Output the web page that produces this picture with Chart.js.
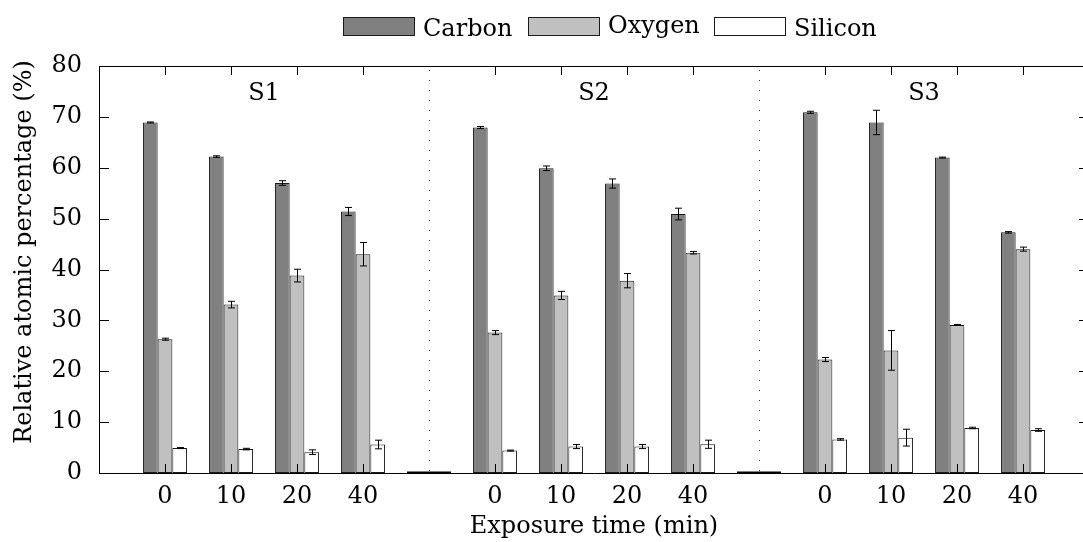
<!DOCTYPE html>
<html>
<head>
<meta charset="utf-8">
<script src="https://cdn.jsdelivr.net/npm/chart.js@4"></script>
<style>
    html, body { margin: 0; padding: 0; overflow: hidden; background: #fff; }
    #cadre { position: relative; width: 1100px; height: 542px; }
</style>
</head>
<body>
<div id="cadre"><canvas id="graphique1"></canvas></div>
<script>
// values
const samples = ["S1", "S2", "S3"];
const times = ["0", "10", "20", "40"];

const carbon = [68.9, 62.2, 57.0, 51.4,   67.9, 59.9, 56.9, 50.9,   70.9, 68.9, 62.0, 47.3];
const carbonErr = [0.1, 0.15, 0.45, 0.8,   0.2, 0.45, 0.9, 1.15,   0.2, 2.4, 0.1, 0.15];
const oxygen = [26.3, 33.1, 38.8, 43.0,   27.6, 34.9, 37.8, 43.3,   22.3, 24.1, 29.1, 44.0];
const oxygenErr = [0.2, 0.65, 1.25, 2.3,   0.4, 0.8, 1.4, 0.25,   0.4, 3.9, 0.1, 0.4];
const silicon = [4.9, 4.7, 4.1, 5.6,   4.4, 5.2, 5.2, 5.65,   6.6, 6.95, 8.85, 8.45];
const siliconErr = [0.1, 0.15, 0.45, 0.85,   0.1, 0.4, 0.4, 0.8,   0.15, 1.65, 0.15, 0.25];

const yTitle = "Relative atomic percentage (%)";
const xTitle = "Exposure time (min)";
const police = "'DejaVu Serif', 'Liberation Serif', serif";

// slots: one empty at each end and between the samples
function slots(arr, blank) {
    const out = [blank];
    for (let s = 0; s < samples.length; s++) {
        for (let t = 0; t < times.length; t++) {
            out.push(arr[s * times.length + t]);
        }
        out.push(blank);
    }
    return out;
}

const labels = slots(samples.flatMap(() => times), "");
const gaps = [];
for (let i = 1; i < labels.length - 1; i++) {
    if (labels[i] === "") gaps.push(i);
}

const errors = [slots(carbonErr, null), slots(oxygenErr, null), slots(siliconErr, null)];

const data = {
    labels: labels,
    datasets: [{
        label: "Carbon",
        data: slots(carbon, null),
        backgroundColor: "#808080",
        borderColor: "#1a1a1a",
        borderWidth: 1,
        borderSkipped: false
    }, {
        label: "Oxygen",
        data: slots(oxygen, null),
        backgroundColor: "#c0c0c0",
        borderColor: "#1a1a1a",
        borderWidth: 1,
        borderSkipped: false
    }, {
        label: "Silicon",
        data: slots(silicon, null),
        backgroundColor: "#ffffff",
        borderColor: "#1a1a1a",
        borderWidth: 1,
        borderSkipped: false
    }]
};

const errorBars = {
    id: "errorBars",
    afterDatasetsDraw(chart) {
        const ctx = chart.ctx;
        const y = chart.scales.y;
        ctx.save();
        ctx.strokeStyle = "#000";
        ctx.lineWidth = 1;
        chart.data.datasets.forEach((ds, d) => {
            const meta = chart.getDatasetMeta(d);
            ds.data.forEach((v, i) => {
                if (v === null || errors[d][i] === null) return;
                const px = Math.round(meta.data[i].x) + 0.5;
                const y1 = y.getPixelForValue(v - errors[d][i]);
                const y2 = y.getPixelForValue(v + errors[d][i]);
                ctx.beginPath();
                ctx.moveTo(px, y1);
                ctx.lineTo(px, y2);
                ctx.moveTo(px - 3.5, y1);
                ctx.lineTo(px + 3.5, y1);
                ctx.moveTo(px - 3.5, y2);
                ctx.lineTo(px + 3.5, y2);
                ctx.stroke();
            });
        });
        ctx.restore();
    }
};

const decorations = {
    id: "decorations",
    afterDraw(chart) {
        const ctx = chart.ctx;
        const {left, right, top, bottom} = chart.chartArea;
        const x = chart.scales.x;
        const y = chart.scales.y;
        ctx.save();
        ctx.strokeStyle = "#000";
        ctx.lineWidth = 1;

        // box
        ctx.beginPath();
        ctx.moveTo(left, top + 0.5);
        ctx.lineTo(right, top + 0.5);
        ctx.moveTo(right - 0.5, top);
        ctx.lineTo(right - 0.5, bottom);
        ctx.stroke();

        // inward ticks
        ctx.beginPath();
        for (const t of y.ticks) {
            const py = Math.round(y.getPixelForValue(t.value)) + 0.5;
            ctx.moveTo(left, py);
            ctx.lineTo(left + 10, py);
            ctx.moveTo(right, py);
            ctx.lineTo(right - 10, py);
        }
        labels.forEach((l, i) => {
            if (l === "") return;
            const px = Math.round(x.getPixelForValue(i)) + 0.5;
            ctx.moveTo(px, top);
            ctx.lineTo(px, top + 9);
            ctx.moveTo(px, bottom);
            ctx.lineTo(px, bottom - 9);
        });
        ctx.stroke();

        // empty slots still show a flat bar on the axis
        ctx.lineWidth = 2;
        ctx.beginPath();
        for (const g of gaps) {
            const px = x.getPixelForValue(g);
            ctx.moveTo(px - 22, bottom - 0.5);
            ctx.lineTo(px + 22, bottom - 0.5);
        }
        ctx.stroke();
        ctx.lineWidth = 1;

        // dotted separators
        ctx.setLineDash([1, 9]);
        ctx.strokeStyle = "#333";
        ctx.beginPath();
        for (const g of gaps) {
            const px = Math.round(x.getPixelForValue(g)) + 0.5;
            ctx.moveTo(px, top + 4);
            ctx.lineTo(px, bottom);
        }
        ctx.stroke();
        ctx.setLineDash([]);

        // sample names
        ctx.fillStyle = "#000";
        ctx.font = "24px " + police;
        ctx.textAlign = "center";
        ctx.textBaseline = "alphabetic";
        samples.forEach((s, k) => {
            const first = 1 + k * (times.length + 1);
            const cx = (x.getPixelForValue(first) + x.getPixelForValue(first + times.length - 1)) / 2;
            ctx.fillText(s, cx, 100);
        });

        // legend
        const legendX = [343, 528, 714];
        const legendBase = [36, 33, 36];
        ctx.textAlign = "left";
        chart.data.datasets.forEach((ds, d) => {
            ctx.fillStyle = ds.backgroundColor;
            ctx.fillRect(legendX[d], 17, 71, 18);
            ctx.strokeStyle = "#1a1a1a";
            ctx.strokeRect(legendX[d] + 0.5, 17.5, 71, 18);
            ctx.fillStyle = "#000";
            ctx.fillText(ds.label, legendX[d] + 80, legendBase[d]);
        });

        // y title
        ctx.translate(25, 252);
        ctx.rotate(-Math.PI / 2);
        ctx.textAlign = "center";
        ctx.textBaseline = "middle";
        ctx.fillText(yTitle, 0, 0);
        ctx.restore();
    }
};

const config = {
    type: "bar",
    data: data,
    options: {
        responsive: true,
        maintainAspectRatio: false,
        animation: false,
        categoryPercentage: 0.668,
        barPercentage: 1.0,
        layout: {
            padding: { top: 66, right: 11, left: 0, bottom: 0 }
        },
        scales: {
            x: {
                type: "category",
                offset: false,
                grid: { display: false },
                border: { display: true, color: "#000", width: 1 },
                ticks: {
                    autoSkip: false,
                    maxRotation: 0,
                    minRotation: 0,
                    padding: 1,
                    color: "#000",
                    font: { family: police, size: 24 }
                },
                title: {
                    display: true,
                    text: xTitle,
                    color: "#000",
                    padding: { top: 0, bottom: 1 },
                    font: { family: police, size: 24 }
                },
                afterFit(scale) { scale.height = 69; }
            },
            y: {
                min: 0,
                max: 80,
                grid: { display: false },
                border: { display: true, color: "#000", width: 1 },
                ticks: {
                    stepSize: 10,
                    padding: 9,
                    color: "#000",
                    font: { family: police, size: 24 }
                },
                afterFit(scale) { scale.width = 99; }
            }
        },
        plugins: {
            legend: { display: false },
            tooltip: { enabled: false }
        }
    },
    plugins: [errorBars, decorations]
};

const chart1 = new Chart(
    document.querySelector("#graphique1"),
    config
);
</script>
</body>
</html>
